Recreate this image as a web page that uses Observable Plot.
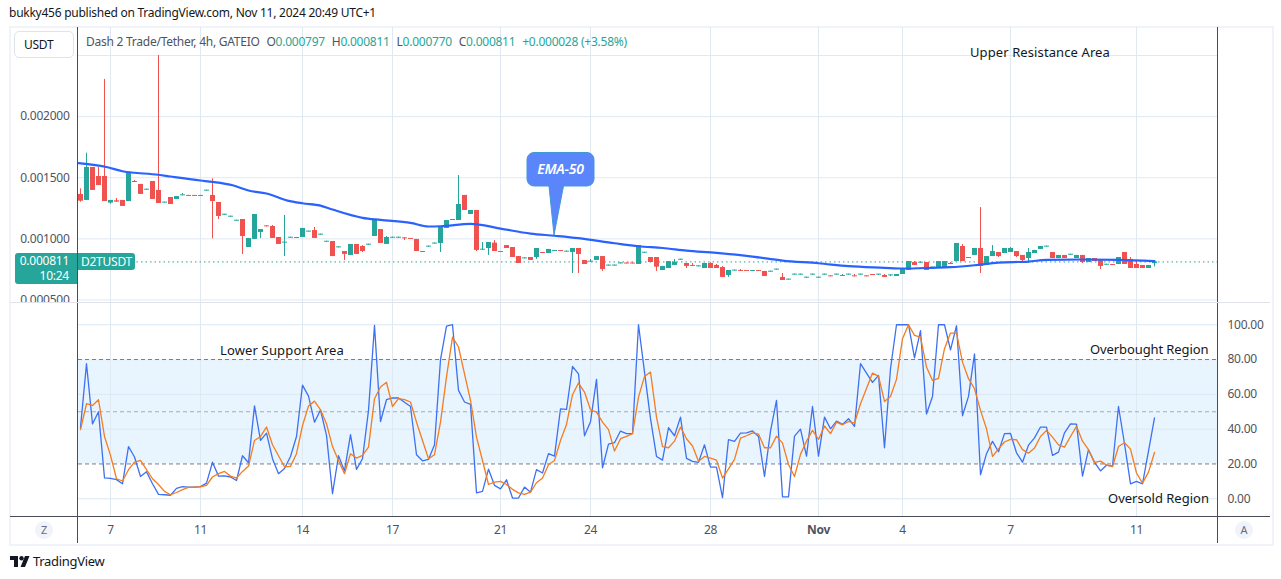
<!DOCTYPE html>
<html>
<head>
<meta charset="utf-8">
<script src="https://cdn.jsdelivr.net/npm/d3@7"></script>
<script src="https://cdn.jsdelivr.net/npm/@observablehq/plot@0.6"></script>
<style>
  body { margin: 0; background: #fff; font-family: "Noto Sans", sans-serif; letter-spacing: -0.25px; }
  #page { position: relative; width: 1281px; height: 579px; overflow: hidden; color: #131722; }
  #page > div { position: absolute; white-space: nowrap; }
  #page svg { display: block; }
  .note { font-size: 13px; color: #131722; line-height: 16px; letter-spacing: 0; }
  .teal { color: #26a69a; }
  .legend { color: #50535e; font-size: 12px; line-height: 16px; }
  .legend span { margin-right: 4px; }
  .legend span span { margin-right: 0; }
  .round { width: 18px; height: 18px; border-radius: 9px; background: #f0f3fa; color: #6a6d78;
    font-size: 11px; line-height: 18px; text-align: center; }
</style>
</head>
<body>
<div id="page">
  <div style="left:9px;top:26px;width:1261px;height:516px;border:2px solid #f0f3fa"></div>
  <div id="price" style="left:0;top:27px"></div>
  <div id="osc" style="left:0;top:303px"></div>
  <div style="left:77px;top:27px;width:1px;height:516px;background:#4a4d58"></div>
  <div style="left:1217px;top:27px;width:1px;height:516px;background:#4a4d58"></div>
  <div style="left:10px;top:516px;width:1260px;height:1px;background:#4a4d58"></div>
  <div style="left:10px;top:302px;width:1260px;height:1px;background:#e0e3eb"></div>

  <div style="left:9px;top:5px;font-size:12px;line-height:16px;color:#131722">bukky456 published on TradingView.com, Nov 11, 2024 20:49 UTC+1</div>
  <div style="left:14px;top:31px;width:58px;height:25px;border:1px solid #e0e3eb;border-radius:5px;background:#fff;font-size:12px;line-height:26px;text-indent:9px">USDT</div>
  <div class="legend" style="left:86px;top:34px">
    <span>Dash 2 Trade/Tether, 4h, GATEIO</span>
    <span>O<span class="teal">0.000797</span></span>
    <span>H<span class="teal">0.000811</span></span>
    <span>L<span class="teal">0.000770</span></span>
    <span>C<span class="teal">0.000811</span></span>
    <span class="teal">+0.000028 (+3.58%)</span>
  </div>

  <div style="left:15px;top:253px;width:54px;height:31px;padding-right:8px;background:#26a69a;border-radius:3px 0 0 3px;color:#fff;font-size:12px;line-height:15px;text-align:right">0.000811<br>10:24</div>
  <div style="left:78px;top:253px;width:57px;height:17px;background:#26a69a;border-radius:0 3px 3px 0;color:#fff;font-size:12px;line-height:17px;text-align:center">D2TUSDT</div>

  <div class="note" style="left:970px;top:44px;letter-spacing:0.1px">Upper Resistance Area</div>
  <div class="note" style="left:220px;top:342px;letter-spacing:0.15px">Lower Support Area</div>
  <div class="note" style="left:1090px;top:341px;letter-spacing:-0.1px">Overbought Region</div>
  <div class="note" style="left:1108px;top:490px">Oversold Region</div>

  <div style="left:520px;top:145px">
    <svg width="90" height="95"><path d="M14 7.5H67a7 7 0 0 1 7 7V34a7 7 0 0 1-7 7H43.5L34 90L29 41H14a7 7 0 0 1-7-7V14.5a7 7 0 0 1 7-7Z" fill="#5b86fb" stroke="#3f9ad6" stroke-width="1"/>
    <text x="40.5" y="28.5" text-anchor="middle" fill="#fff" font-size="14" font-style="italic" font-weight="600" font-family="Noto Sans">EMA-50</text></svg>
  </div>

  <div class="round" style="left:35px;top:521px">Z</div>
  <div class="round" style="left:1235px;top:521px">A</div>

  <div style="left:10px;top:556px">
    <svg width="20" height="11"><path d="M0 0H8V11H4V4H0Z M19.5 0L15 11H10.5L15 0Z" fill="#131722"/><circle cx="11.5" cy="2.2" r="2.2" fill="#131722"/></svg>
  </div>
  <div style="left:33px;top:552px;font-size:13px;line-height:18px;color:#131722;letter-spacing:-0.3px">TradingView</div>
</div>

<script>
// velas en millonesimas de USDT
const open = [
  1363,1314,1584,1510,1510,1292,1311,1314,1305,1469,
  1445,1398,1469,1396,1292,1338,1322,1352,1355,1355,
  1347,1390,1355,1297,1193,1177,1144,1158,929,995,
  1052,1106,1101,1011,965,1005,1003,1011,1055,1068,
  1030,972,978,926,896,864,954,937,948,1019,
  1076,954,1005,1005,1008,1003,995,896,932,957,
  962,1085,1150,1150,1355,1199,1232,907,921,965,
  896,945,929,855,836,847,847,888,880,897,
  904,891,888,921,823,809,823,855,777,777,
  795,802,802,790,882,847,847,741,757,782,
  825,798,782,771,757,798,782,765,700,736,
  741,741,733,741,733,727,744,684,662,703,
  703,678,703,678,703,697,703,692,703,697,
  703,697,708,703,700,697,692,708,741,806,
  801,806,760,757,763,798,814,937,839,864,
  921,782,855,888,880,888,896,864,839,880,
  913,932,888,839,864,866,839,864,806,839,
  831,784,790,790,888,831,790,782,757,797
]
const close = [
  1308,1584,1396,1436,1305,1314,1300,1265,1545,1461,
  1363,1406,1322,1289,1300,1281,1346,1360,1347,1347,
  1355,1398,1305,1183,1201,1185,1152,1019,1003,1199,
  1076,1098,1003,954,973,1013,1011,1085,1063,1003,
  1038,980,855,934,872,954,872,896,956,1150,
  962,1011,1013,1013,1000,995,896,888,940,965,
  1101,1150,1158,1281,1232,1232,905,915,970,896,
  888,921,847,798,844,823,921,880,913,905,
  896,899,921,872,790,817,855,749,785,785,
  803,794,794,945,890,806,768,774,814,809,
  833,774,774,779,798,757,757,684,741,744,
  733,733,741,733,692,735,752,659,670,711,
  711,686,711,686,711,689,711,700,711,689,
  711,689,700,711,684,705,708,749,814,782,
  809,741,768,814,814,790,962,814,847,921,
  774,855,896,855,921,921,855,823,888,905,
  937,940,839,864,839,874,864,806,839,814,
  774,792,782,847,790,757,757,757,782,811
]
const high = [
  1409,1701,1584,1584,2304,1314,1330,1314,1545,1478,
  1445,1406,1469,2500,1300,1338,1346,1371,1355,1355,
  1355,1398,1491,1297,1201,1185,1152,1158,1003,1199,
  1076,1106,1109,1011,1191,1013,1011,1085,1063,1093,
  1038,980,978,934,896,954,954,945,956,1150,
  1076,1019,1013,1013,1008,1003,995,896,940,965,
  1101,1150,1158,1518,1355,1232,1232,970,970,986,
  896,945,929,855,844,847,921,888,913,905,
  904,899,921,921,823,831,855,855,785,785,
  803,802,802,945,890,847,847,774,814,831,
  833,798,798,779,798,804,790,774,741,744,
  749,741,741,741,733,735,752,716,670,711,
  711,686,711,686,711,697,711,708,711,708,
  711,697,708,711,708,705,708,749,814,814,
  809,806,768,814,814,806,962,954,847,921,
  1256,855,945,888,921,929,896,864,921,905,
  937,940,888,864,864,874,864,864,839,839,
  831,792,790,847,888,847,814,782,782,811
]
const low = [
  1300,1314,1396,1436,1305,1284,1300,1265,1305,1461,
  1363,1398,1322,1289,1292,1281,1322,1352,1347,1347,
  1347,1390,1000,1158,1193,1177,1144,872,929,995,
  1003,1098,1003,954,855,1005,1003,1011,1055,1003,
  1030,972,855,926,823,864,872,888,948,1019,
  962,954,1005,1005,986,995,896,888,932,957,
  888,1085,1150,1150,1232,1199,896,905,864,896,
  888,921,847,798,836,823,831,880,880,897,
  896,891,716,716,790,809,823,733,777,777,
  795,794,794,790,882,806,733,741,757,782,
  825,757,774,771,757,757,757,684,684,736,
  733,733,733,733,692,727,744,659,662,703,
  703,678,703,678,703,689,703,692,703,689,
  703,689,700,703,684,690,692,708,741,782,
  801,741,760,757,763,790,814,814,839,864,
  716,782,855,847,880,888,847,814,814,880,
  913,932,839,839,839,866,839,798,806,814,
  749,784,782,790,790,757,757,757,757,770
]

const emaBar = [-0.3,4.5,7,13,15,20,22,25.5,28,31,34.5,37,40,42,47,50,55,58,60,65,70,75,79,83,89,93,97,101,106,112,117,123,128,134,137,142,145,149,153,158,161,167,173,179]
const emaValue = [1619,1586,1553,1524,1510,1477,1466,1436,1395,1371,1313,1291,1272,1240,1172,1155,1131,1101,1103,1123,1084,1043,1025,1005,964,939,925,904,885,855,822,800,776,763,757,763,768,784,806,814,828,831,828,817]

// oscilador
const stochK = [
  41,77.6,43,50,12,11.7,11,8.6,30,24,
  12.8,15.5,8.6,2.5,2.3,2,6,7,6.7,6.7,
  7,9,21,13,13.2,12.5,10.5,24.7,20.7,53.4,
  33.5,37.7,23,14.4,17.4,24.3,35.8,65.3,59,44,
  51,36.4,2.9,24.7,16,36.8,16.9,23,50.8,99.6,
  44.4,56.9,57.9,57.9,55.4,53,25.3,21.8,22.6,31,
  79.9,99.2,100,62.3,55.6,54.2,3.4,4.2,17,7.7,
  5.7,10.9,0.4,0.4,6.7,3.8,16.7,14.8,25.9,24.5,
  51.7,51.3,76,71.8,36.2,44.3,68.6,17.8,31.4,32.2,
  38.9,37.4,37.4,100,72.8,46,24.3,22.2,40.8,36.2,
  46.9,23.2,21.5,20.9,31,18.2,18.2,0.6,34,33,
  37.7,37.9,39,35.8,12.8,38.9,56.5,1.1,1.1,36,
  40,24.5,53,24.5,46.9,40.2,44.6,42.7,46,41.6,
  77.6,72.2,66.9,70.9,29.3,74.7,100,100,100,81,
  96.6,48.7,58.8,100,100,85.6,99.4,47.7,58.8,83.3,
  13.8,25.9,33,27,37.4,37.5,26.4,21,30.8,35,
  41.2,41.2,24.9,26.8,37.9,43,42.9,13,28.2,20.9,
  16,19.3,18.8,53,31.6,8.6,10,8.6,27.4,46.5
]
const stochD = [
  39.8,54.6,53.6,56.9,35.8,24.9,11.5,10.2,16.7,21,
  22,16.7,11.5,8.2,4.2,2.3,3.6,5.2,6.5,6.7,
  6.9,7.7,12.5,14.4,15.7,13,11.9,15.7,18.8,33.5,
  35.8,41.2,31,24.7,18.4,18.6,25.9,42,53.3,56.1,
  51.1,43.1,30,22,14.4,25.9,23.4,24.9,29.7,57.5,
  64.2,66.9,53,57.5,56.9,55.6,44,33.5,23,25.3,
  44,70,92.9,87.2,71.8,56.5,35.4,22,8.2,9.6,
  10,8.2,5.4,3.4,2.5,3.8,9.2,11.9,19.5,22,
  33.5,42.7,59.8,66.5,61.3,51.1,49.8,44,39.7,27.4,
  34.5,35.8,37.4,58.4,70.3,72.8,46.9,30,29.3,33.1,
  41.2,34.5,30.3,21.6,24.3,23.4,22.2,11.9,17.2,22.6,
  34.9,36.2,37.9,37.2,29.3,29.3,36,32,19.7,12.8,
  25.5,33.1,39.3,34.1,41.8,37.4,44,42.5,44.4,43.5,
  54.6,63.4,72.2,70.5,55.9,58.8,68.6,92,100,93.9,
  92.9,75.7,68,69.2,86.2,95.2,95.2,78.5,69,63.2,
  50.8,40.2,24.3,28.7,32.6,34.1,33.9,28.2,26.2,29.1,
  35.8,39.3,35.4,31,29.7,35.8,41.6,33.1,28.2,20.9,
  21.6,19.3,18.4,30,32.2,28.5,14.8,9,15.3,26.6
]

// eje de tiempo y ejes de valores
const dateBars = [5,20,37,52,70,85,105,123,137,155,176]
const dateLabels = ['7','11','14','17','21','24','28','Nov','4','7','11']
const priceTicks = [500,1000,1500,2000]
const priceGrid = [500,1000,1500,2000,2500]
const oscTicks = [0,20,40,60,80,100]
const oscGrid = [0,40,60,100]
const lastPrice = 811

const green = '#26a69a'
const red = '#f0524f'
const grid = '#e0e9f1'
const xDomain = [-1 / 3, 189.5]

const bars = open.map((o, i) => ({ i, o, c: close[i], h: high[i], l: low[i] }))
const ups = bars.filter(d => d.c >= d.o)
const downs = bars.filter(d => d.c < d.o)
const ema = emaBar.map((b, i) => ({ b, v: emaValue[i] }))

const labelOf = d => dateLabels[dateBars.indexOf(d)]

// Panel de precio
const chart = Plot.plot({
  width: 1281,
  height: 275,
  marginLeft: 78,
  marginRight: 64,
  marginTop: 0,
  marginBottom: 0,
  style: { background: 'transparent', fontFamily: 'Noto Sans', fontSize: '12px', letterSpacing: '-0.25px', overflow: 'hidden' },
  x: { domain: xDomain, axis: null },
  y: { domain: [479, 2729], axis: null },
  marks: [
    Plot.ruleX(dateBars, { stroke: grid }),
    Plot.ruleY(priceGrid, { stroke: grid }),
    Plot.axisY({ anchor: 'left', ticks: priceTicks, tickSize: 0, tickPadding: 9, label: null, color: '#50535e', tickFormat: d => (d / 1e6).toFixed(6) }),
    Plot.ruleY([lastPrice], { stroke: green, strokeDasharray: '1.5,3' }),
    Plot.ruleX(ups, { x: 'i', y1: 'l', y2: 'h', stroke: green }),
    Plot.ruleX(downs, { x: 'i', y1: 'l', y2: 'h', stroke: red }),
    Plot.ruleX(ups, { x: 'i', y1: 'o', y2: 'c', stroke: green, strokeWidth: 5 }),
    Plot.ruleX(downs, { x: 'i', y1: 'o', y2: 'c', stroke: red, strokeWidth: 5 }),
    Plot.line(ema, { x: 'b', y: 'v', stroke: '#2962ff', strokeWidth: 2.2, curve: 'monotone-x' }),
  ],
})
d3.select('#price').append(() => chart)

// Panel del oscilador
const band = [{ x1: xDomain[0], x2: xDomain[1], y1: 20, y2: 80 }]
const osc = Plot.plot({
  width: 1281,
  height: 240,
  marginLeft: 78,
  marginRight: 64,
  marginTop: 0,
  marginBottom: 27,
  style: { background: 'transparent', fontFamily: 'Noto Sans', fontSize: '12px', letterSpacing: '-0.25px' },
  x: { domain: xDomain, axis: null },
  y: { domain: [-10.2, 112.2], axis: null },
  marks: [
    Plot.rect(band, { x1: 'x1', x2: 'x2', y1: 'y1', y2: 'y2', fill: '#2196f3', fillOpacity: 0.1 }),
    Plot.ruleX(dateBars, { stroke: grid }),
    Plot.ruleY(oscGrid, { stroke: '#dbe8f3' }),
    Plot.ruleY([20, 80], { stroke: '#787b86', strokeDasharray: '4,3' }),
    Plot.ruleY([50], { stroke: '#a9acb4', strokeDasharray: '4,3' }),
    Plot.axisY({ anchor: 'right', ticks: oscTicks, tickSize: 0, tickPadding: 10, label: null, color: '#50535e', tickFormat: d => d.toFixed(2) }),
    Plot.axisX({ ticks: dateBars.filter(d => labelOf(d) != 'Nov'), tickSize: 0, tickPadding: 9, label: null, color: '#50535e', tickFormat: labelOf }),
    Plot.axisX({ ticks: dateBars.filter(d => labelOf(d) == 'Nov'), tickSize: 0, tickPadding: 9, label: null, color: '#50535e', fontWeight: 'bold', tickFormat: labelOf }),
    Plot.line(stochK, { x: (d, i) => i, y: d => d, stroke: '#3d71f2', strokeWidth: 1.3 }),
    Plot.line(stochD, { x: (d, i) => i, y: d => d, stroke: '#f57c1f', strokeWidth: 1.3 }),
  ],
})
d3.select('#osc').append(() => osc)
</script>
</body>
</html>
